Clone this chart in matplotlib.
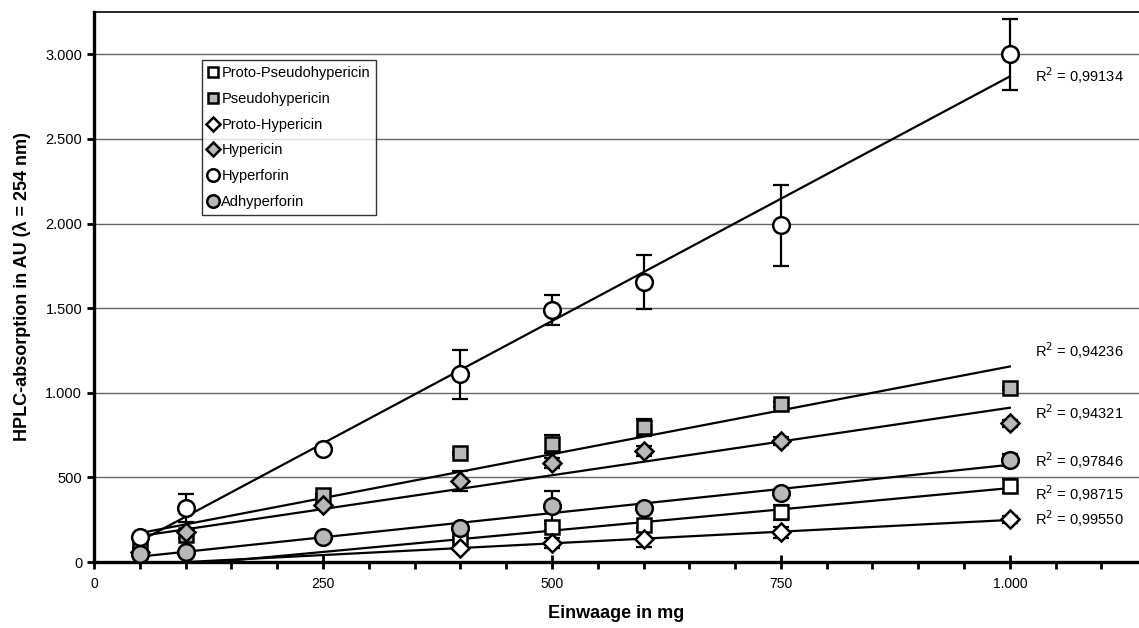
import numpy as np
import matplotlib
matplotlib.use("Agg")
import matplotlib.pyplot as plt
from matplotlib.ticker import MultipleLocator, FuncFormatter

plt.rcParams['font.family'] = ['Liberation Sans', 'DejaVu Sans']

# Einwaage (mg)
einwaage = np.array([50, 100, 250, 400, 500, 600, 750, 1000])

# HPLC peak areas per compound (nan = not detected)
proto_pseudo = np.array([np.nan, np.nan, np.nan, 136, 207, 218, 295, 449])
pseudo = np.array([83, 160, 395, 643, 697, 797, 933, 1027])
proto_hyp = np.array([np.nan, np.nan, np.nan, 85, 112, 136, 175, 252])
hyp = np.array([60, 175, 336, 478, 584, 655, 714, 820])
hyperforin = np.array([148, 319, 667, 1110, 1490, 1655, 1990, 3000])
adhyperforin = np.array([50, 59, 148, 200, 330, 318, 407, 602])

# standard deviations
proto_pseudo_sd = np.array([0, 0, 0, 10, 15, 15, 45, 40])
pseudo_sd = np.array([0, 20, 10, 10, 55, 50, 15, 10])
proto_hyp_sd = np.array([0, 0, 0, 10, 30, 45, 35, 20])
hyp_sd = np.array([0, 10, 10, 60, 30, 30, 25, 20])
hyperforin_sd = np.array([0, 82, 10, 145, 88, 158, 240, 210])
adhyperforin_sd = np.array([0, 0, 15, 10, 90, 10, 10, 35])

r2_text = ['0,98715', '0,94236', '0,99550', '0,94321', '0,99134', '0,97846']
r2_ypos = [407, 1250, 254, 880, 2875, 602]

names = ['Proto-Pseudohypericin', 'Pseudohypericin', 'Proto-Hypericin',
         'Hypericin', 'Hyperforin', 'Adhyperforin']
values = [proto_pseudo, pseudo, proto_hyp, hyp, hyperforin, adhyperforin]
errors = [proto_pseudo_sd, pseudo_sd, proto_hyp_sd, hyp_sd, hyperforin_sd, adhyperforin_sd]
markers = ['s', 's', 'D', 'D', 'o', 'o']
faces = ['white', '#b8b8b8', 'white', '#b8b8b8', 'white', '#b8b8b8']
msizes = [10, 10, 9, 9, 12, 12]

fig = plt.figure(figsize=(11.39, 6.28), dpi=100)
ax = fig.add_axes([0.0825, 0.105, 0.9175, 0.876])

for name, y, err, m, fc, ms in zip(names, values, errors, markers, faces, msizes):
    ok = ~np.isnan(y)
    ax.errorbar(einwaage[ok], y[ok], yerr=err[ok], fmt='none', ecolor='black',
                elinewidth=1.6, capsize=5.5, capthick=1.6, zorder=2)

# linear trendlines
for y in values:
    ok = ~np.isnan(y)
    k, d = np.polyfit(einwaage[ok], y[ok], 1)
    xs = np.array([50, 1000])
    ax.plot(xs, k * xs + d, color='black', lw=1.6, zorder=3)

for name, y, m, fc, ms in zip(names, values, markers, faces, msizes):
    ax.plot(einwaage, y, linestyle='none', marker=m, markersize=ms,
            markerfacecolor=fc, markeredgecolor='black', markeredgewidth=1.8,
            label=name, zorder=4)

for txt, yp in zip(r2_text, r2_ypos):
    ax.text(1027, yp, 'R$^2$ = ' + txt, fontsize=10.5, va='center', ha='left')

ax.set_xlim(0, 1141)
ax.set_ylim(0, 3250)
ax.xaxis.set_major_locator(MultipleLocator(250))
ax.xaxis.set_minor_locator(MultipleLocator(50))
ax.yaxis.set_major_locator(MultipleLocator(500))
fmt = FuncFormatter(lambda v, p: f"{int(v):,}".replace(',', '.'))
ax.xaxis.set_major_formatter(fmt)
ax.yaxis.set_major_formatter(fmt)
ax.grid(axis='y', color='#666666', lw=1.0)
ax.set_axisbelow(True)

for s in ['left', 'bottom']:
    ax.spines[s].set_linewidth(2.4)
ax.spines['top'].set_linewidth(1.2)
ax.spines['right'].set_visible(False)
ax.tick_params(axis='x', which='major', direction='inout', length=10, width=2, labelsize=10, pad=6)
ax.tick_params(axis='x', which='minor', direction='out', length=5, width=2)
ax.tick_params(axis='y', which='major', direction='out', length=5, width=2, labelsize=10.5)

ax.set_xlabel('Einwaage in mg', fontsize=13, fontweight='bold', labelpad=10)
ax.set_ylabel('HPLC-absorption in AU (λ = 254 nm)', fontsize=13, fontweight='bold', labelpad=10)

leg = ax.legend(loc='upper left', bbox_to_anchor=(0.103, 0.913), frameon=True,
                fancybox=False, edgecolor='black', fontsize=10.5, markerscale=0.75,
                handlelength=0.6, handletextpad=0.3, labelspacing=0.8,
                borderpad=0.45, borderaxespad=0)
leg.get_frame().set_linewidth(1.0)

fig.savefig('out.png', dpi=100)
